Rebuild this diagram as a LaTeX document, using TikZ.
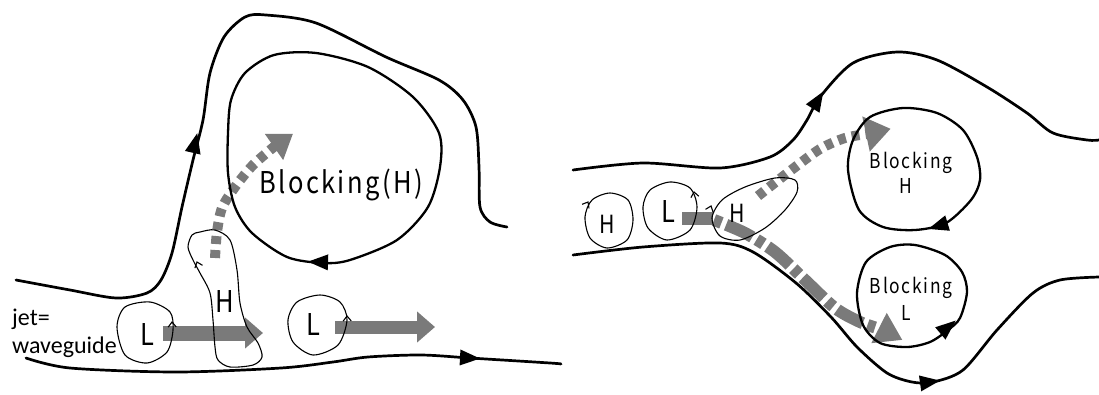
\documentclass[tikz,border=0pt]{standalone}
\usepackage{fontspec}
\setmainfont{Carlito}
\newfontfamily\labfont[FakeStretch=0.85,LetterSpace=8]{Noto Sans CJK JP}
\usetikzlibrary{arrows.meta}
\definecolor{ag}{RGB}{122,122,122}
\newcommand\tipat[3]{\fill[shift={(#1,#2)},rotate=#3] (10pt,0pt) -- (-10pt,8pt) -- (-10pt,-8pt) -- cycle;}
\newcommand\barbat[3]{\draw[thinline,shift={(#1,#2)},rotate=#3] (-5pt,4pt) -- (0pt,0pt) -- (-5pt,-4pt);}
\newcommand\gtip[5]{\fill[ag,shift={(#1,#2)},rotate=#3] (#4pt,0pt) -- ({0pt},{#5pt/2}) -- ({0pt},{-#5pt/2}) -- cycle;}
\begin{document}
\begin{tikzpicture}[x=1pt,y=-1pt,
  stream/.style={line width=2.7pt,line cap=round,line join=round},
  ring/.style={line width=2.3pt},
  thinline/.style={line width=1.1pt},
  garrow/.style={ag,line width=15pt,-{Triangle[length=18pt,width=30pt]}},
  dotarrow/.style={ag,line width=10pt,dash pattern=on 8pt off 6pt},
  dasharrow/.style={ag,line width=12pt,dash pattern=on 8pt off 5pt on 29pt off 5pt},
  lab/.style={inner sep=0pt,anchor=base},
  big/.style={lab,font={\labfont\fontsize{30}{36}\selectfont}},
  mid/.style={lab,font={\labfont\fontsize{25}{30}\selectfont}},
  small/.style={lab,font={\labfont\fontsize{20.5}{24}\selectfont}}]
\useasboundingbox (0,0) rectangle (1099,394);

% ---------- grey motion arrows (left) ----------
\draw[garrow] (163,333) -- (263,333);
\draw[garrow,line width=13pt] (335,327) -- (435,327);
\draw[dotarrow] plot[smooth] coordinates {(215,258) (217,232) (222,208) (235,187) (253,165) (275,146)};
\gtip{274}{147}{35}{23}{32}

% ---------- grey motion arrows (right) ----------
\draw[ag,line width=13pt] (682,218) -- (713,218);
\draw[dasharrow] plot[smooth] coordinates {(714,220) (745,233) (775,252) (805,280) (835,308) (860,322) (880,329)};
\gtip{879}{328}{-27}{26}{34}
\draw[dotarrow] plot[smooth] coordinates {(758,196) (790,171) (820,149) (845,138) (867,134)};
\gtip{866}{134}{12}{25}{36}

% ---------- left panel streamlines ----------
\draw[stream] plot[smooth] coordinates {(16,280) (70,290) (116,298) (147,293) (161,280) (172,253) (182,207) (193,160) (203,120) (210,73) (224,37) (245,17) (266,15) (316,23) (386,57) (439,80) (463,100) (476,127) (479,167) (480,207) (490,222) (507,227)};
\tipat{195}{143}{77}
\draw[stream] plot[smooth] coordinates {(26,358) (70,368) (176,372) (281,368) (333,362) (368,357) (421,355) (470,358) (550,363) (561,364)};
\tipat{470}{358}{-3}
\draw[ring] plot[smooth cycle] coordinates {(274,55) (316,53) (368,67) (413,97) (439,133) (440,167) (428,207) (397,240) (350,260) (323,263) (287,257) (252,233) (235,207) (228,173) (228,133) (231,100) (245,73)};
\tipat{318}{262}{178}

% small systems left
\draw[thinline] plot[smooth cycle] coordinates {(200,232) (215,230) (230,240) (237,270) (240,303) (247,327) (258,343) (262,357) (253,365) (230,367) (218,360) (215,347) (213,320) (210,293) (200,273) (193,260) (188,247) (192,235)};
\barbat{197}{262}{110}
\draw[thinline] plot[smooth cycle] coordinates {(117,327) (125,307) (150,302) (170,312) (173,330) (167,352) (147,363) (125,355)};
\barbat{172}{322}{92}
\draw[thinline] plot[smooth cycle] coordinates {(288,320) (297,302) (320,295) (340,302) (347,320) (338,345) (313,355) (293,342)};
\barbat{347}{316}{92}

% ---------- right panel streamlines ----------
\draw[stream] plot[smooth] coordinates {(573,170) (643,163) (720,168) (770,157) (793,140) (807,120) (820,97) (853,63) (897,52) (937,60) (987,87) (1027,113) (1053,133) (1087,140) (1099,140)};
\tipat{818}{100}{58}
\draw[stream] plot[smooth] coordinates {(573,255) (643,247) (720,243) (753,252) (796,283) (831,317) (857,347) (887,373) (912,382) (933,382) (963,370) (997,330) (1033,293) (1060,280) (1099,277)};
\tipat{930}{382}{8}
\draw[ring] plot[smooth cycle] coordinates {(848,170) (853,140) (870,117) (903,108) (937,113) (963,130) (977,157) (980,180) (971,200) (946,223) (915,230) (883,227) (859,210)};
\tipat{938}{226}{197}
\draw[ring] plot[smooth cycle] coordinates {(857,293) (866,262) (890,247) (915,245) (945,255) (962,272) (967,292) (960,318) (948,330) (930,342) (907,347) (880,343) (863,325)};
\tipat{948}{327}{40}

% small systems right
\draw[thinline] plot[smooth cycle] coordinates {(585,217) (592,200) (610,193) (628,200) (633,220) (627,240) (607,248) (590,238)};
\barbat{588}{202}{60}
\draw[thinline] plot[smooth cycle] coordinates {(643,207) (650,190) (670,182) (690,188) (697,207) (690,230) (667,240) (648,228)};
\barbat{694}{192}{100}
\draw[thinline] plot[smooth cycle] coordinates {(712,218) (722,200) (745,187) (775,178) (795,180) (797,192) (785,210) (765,228) (740,240) (720,236)};
\barbat{711}{206}{70}

% ---------- labels ----------
\node[big] (blockH) at (341,193) {Blocking(H)};
\node[big] (L1) at (147,345) {L};
\node[big] (Hloop) at (225,312) {H};
\node[big] (L2) at (313,335) {L};
\node[mid] (Hs) at (607,233) {H};
\node[big] (Ls) at (668,222) {L};
\node[mid] (H3) at (737,222) {H};
\node[small] (bhr) at (911,168) {Blocking};
\node[small] (bhr2) at (906,193) {H};
\node[small] (blr) at (911,293) {Blocking};
\node[small] (blr2) at (906,320) {L};
\node[inner sep=0pt,anchor=base west,font=\fontsize{24}{28}\selectfont] (jet) at (12,325) {jet=};
\node[inner sep=0pt,anchor=base west,font=\fontsize{24}{28}\selectfont] (wg) at (12,353) {waveguide};
\end{tikzpicture}
\end{document}
